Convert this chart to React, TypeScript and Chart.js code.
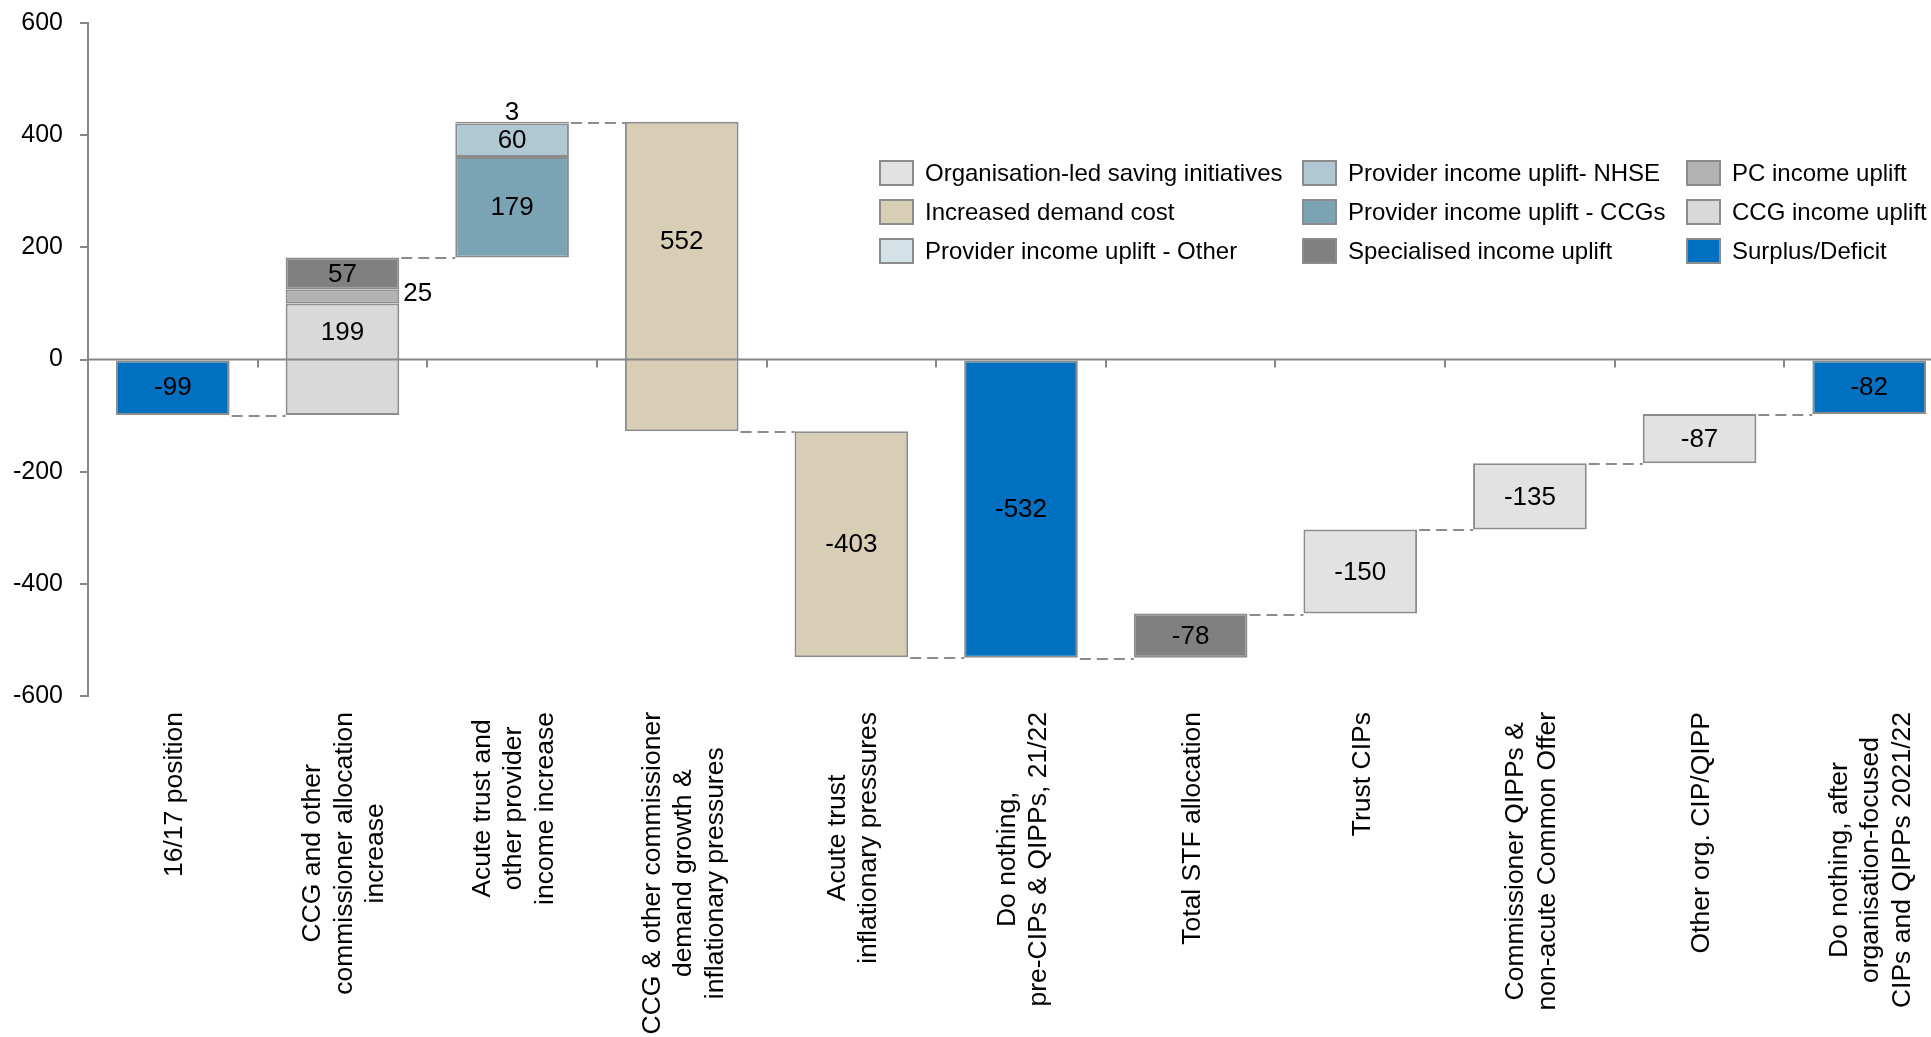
import React, { useEffect, useRef } from "react";
import { Chart, registerables } from "chart.js";

Chart.register(...registerables);

type Seg = [number, number] | null;

// ---------- DATA ----------
const categories: string[][] = [
  ["16/17 position"],
  ["CCG and other", "commissioner allocation", "increase"],
  ["Acute trust and", "other provider", "income increase"],
  ["CCG & other commissioner", "demand growth &", "inflationary pressures"],
  ["Acute trust", "inflationary pressures"],
  ["Do nothing,", "pre-CIPs & QIPPs, 21/22"],
  ["Total STF allocation"],
  ["Trust CIPs"],
  ["Commissioner QIPPs &", "non-acute Common Offer"],
  ["Other org. CIP/QIPP"],
  ["Do nothing, after", "organisation-focused", "CIPs and QIPPs 2021/22"],
];

const yTickMin = -600;
const yTickMax = 600;
const yTickStep = 200;

const seriesNames = [
  "Organisation-led saving initiatives",
  "Increased demand cost",
  "Provider income uplift - Other",
  "Provider income uplift- NHSE",
  "Provider income uplift - CCGs",
  "Specialised income uplift",
  "PC income uplift",
  "CCG income uplift",
  "Surplus/Deficit",
];

const seriesColors = [
  "#E2E2E2",
  "#D8CEB5",
  "#D4E1E7",
  "#AFC8D2",
  "#7AA3B4",
  "#808080",
  "#B2B2B2",
  "#D9D9D9",
  "#0070C0",
];

const orgLedSaving: Seg[] = [null, null, null, null, null, null, null, [-453, -303], [-303, -185], [-185, -97], null];
const orgLedSavingText = [null, null, null, null, null, null, null, "-150", "-135", "-87", null];

const increasedDemand: Seg[] = [null, null, null, [-128, 424], [-531, -128], null, null, null, null, null, null];
const increasedDemandText = [null, null, null, "552", "-403", null, null, null, null, null, null];

const providerOther: Seg[] = [null, null, [421, 424], null, null, null, null, null, null, null, null];
const providerOtherText = [null, null, "3", null, null, null, null, null, null, null, null];

const providerNHSE: Seg[] = [null, null, [361, 421], null, null, null, null, null, null, null, null];
const providerNHSEText = [null, null, "60", null, null, null, null, null, null, null, null];

const providerCCGs: Seg[] = [null, null, [182, 361], null, null, null, null, null, null, null, null];
const providerCCGsText = [null, null, "179", null, null, null, null, null, null, null, null];

const specialised: Seg[] = [null, [125, 182], null, null, null, null, [-532, -453], null, null, null, null];
const specialisedText = [null, "57", null, null, null, null, "-78", null, null, null, null];

const pcIncome: Seg[] = [null, [100, 125], null, null, null, null, null, null, null, null, null];
const pcIncomeText = [null, "25", null, null, null, null, null, null, null, null, null];

const ccgIncome: Seg[] = [null, [-99, 100], null, null, null, null, null, null, null, null, null];
const ccgIncomeText = [null, "199", null, null, null, null, null, null, null, null, null];

const surplusDeficit: Seg[] = [[-99, 0], null, null, null, null, [-532, 0], null, null, null, null, [-97, 0]];
const surplusDeficitText = ["-99", null, null, null, null, "-532", null, null, null, null, "-82"];

const seriesData: Seg[][] = [
  orgLedSaving, increasedDemand, providerOther, providerNHSE, providerCCGs,
  specialised, pcIncome, ccgIncome, surplusDeficit,
];
const seriesText: (string | null)[][] = [
  orgLedSavingText, increasedDemandText, providerOtherText, providerNHSEText, providerCCGsText,
  specialisedText, pcIncomeText, ccgIncomeText, surplusDeficitText,
];

// ---------- STYLE ----------
const FONT = '"Liberation Sans", Arial, Helvetica, sans-serif';
const AXIS = "#868686";
const EDGE = "#8C8C8C";
const CANVAS_W = 1954;
const CANVAS_H = 1037;

const extrasPlugin = {
  id: "waterfallExtras",
  afterDatasetsDraw(chart: any) {
    const ctx: CanvasRenderingContext2D = chart.ctx;
    const xs = chart.scales.x;
    const ys = chart.scales.y;
    const area = chart.chartArea;
    const y0 = ys.getPixelForValue(0);
    const n = categories.length;

    const barRect = (i: number) => {
      for (let d = 0; d < seriesData.length; d++) {
        if (seriesData[d][i]) {
          const el = chart.getDatasetMeta(d).data[i];
          return { x: el.x, w: el.width };
        }
      }
      return null;
    };
    const levels = (i: number) => {
      const arr: number[] = [];
      seriesData.forEach((s) => {
        const v = s[i];
        if (v) arr.push(v[0], v[1]);
      });
      return arr;
    };

    ctx.save();
    // connectors
    ctx.strokeStyle = EDGE;
    ctx.lineWidth = 2;
    ctx.setLineDash([11, 6]);
    for (let i = 0; i < n - 1; i++) {
      const a = levels(i);
      const b = levels(i + 1);
      let best = Infinity;
      let lvl = 0;
      a.forEach((va) =>
        b.forEach((vb) => {
          const dd = Math.abs(va - vb);
          if (dd < best) {
            best = dd;
            lvl = va;
          }
        })
      );
      const r1 = barRect(i);
      const r2 = barRect(i + 1);
      if (!r1 || !r2) continue;
      const py = Math.round(ys.getPixelForValue(lvl)) + 1;
      ctx.beginPath();
      ctx.moveTo(r1.x + r1.w / 2 + 2, py);
      ctx.lineTo(r2.x - r2.w / 2, py);
      ctx.stroke();
    }
    ctx.setLineDash([]);

    // zero line + category boundary tick marks
    ctx.strokeStyle = AXIS;
    ctx.lineWidth = 2;
    ctx.beginPath();
    ctx.moveTo(area.left, y0);
    ctx.lineTo(area.right, y0);
    for (let i = 1; i <= n; i++) {
      const bx = Math.round(xs.getPixelForValue(i - 0.5));
      ctx.moveTo(bx, y0);
      ctx.lineTo(bx, y0 + 8);
    }
    ctx.stroke();

    // data labels
    ctx.fillStyle = "#000";
    ctx.font = `26px ${FONT}`;
    for (let i = 0; i < n; i++) {
      const lv = levels(i);
      const topVal = Math.max(...(lv.length ? lv : [0]));
      for (let d = 0; d < seriesData.length; d++) {
        const v = seriesData[d][i];
        const t = seriesText[d][i];
        if (!v || !t) continue;
        const el = chart.getDatasetMeta(d).data[i];
        const lo = Math.min(v[0], v[1]);
        const hi = Math.max(v[0], v[1]);
        const pTop = ys.getPixelForValue(hi);
        const pBot = ys.getPixelForValue(lo);
        const h = pBot - pTop;
        if (h < 20) {
          if (hi === topVal) {
            ctx.textAlign = "center";
            ctx.textBaseline = "alphabetic";
            ctx.fillText(t, el.x, pTop - 2);
          } else {
            ctx.textAlign = "left";
            ctx.textBaseline = "middle";
            ctx.fillText(t, el.x + el.width / 2 + 4, (pTop + pBot) / 2 - 3);
          }
        } else {
          ctx.textAlign = "center";
          ctx.textBaseline = "middle";
          const cy = lo < 0 && hi > 0 ? (pTop + y0) / 2 : (pTop + pBot) / 2;
          ctx.fillText(t, el.x, cy + 1);
        }
      }
    }
    ctx.restore();
  },
  afterDraw(chart: any) {
    const ctx: CanvasRenderingContext2D = chart.ctx;
    const xs = chart.scales.x;
    ctx.save();
    // category labels (rotated, centred lines)
    const fs = 26.5;
    const lh = 31.5;
    ctx.font = `${fs}px ${FONT}`;
    ctx.fillStyle = "#000";
    ctx.textAlign = "center";
    ctx.textBaseline = "middle";
    categories.forEach((lines, i) => {
      const cx = xs.getPixelForValue(i);
      const maxLen = Math.max(...lines.map((l) => ctx.measureText(l).width));
      const cy = 712 + maxLen / 2;
      lines.forEach((line, k) => {
        const lx = cx + (k - (lines.length - 1) / 2) * lh;
        ctx.save();
        ctx.translate(lx, cy);
        ctx.rotate(-Math.PI / 2);
        ctx.fillText(line, 0, 2);
        ctx.restore();
      });
    });

    // legend (3 columns x 3 rows, column-major)
    const colX = [879, 1302, 1686];
    const rowY = [160, 199, 238];
    ctx.font = `24px ${FONT}`;
    ctx.textAlign = "left";
    ctx.textBaseline = "middle";
    chart.data.datasets.forEach((ds: any, idx: number) => {
      const c = Math.floor(idx / 3);
      const r = idx % 3;
      const bx = colX[c];
      const by = rowY[r];
      ctx.fillStyle = ds.backgroundColor;
      ctx.fillRect(bx, by, 35, 26);
      ctx.strokeStyle = EDGE;
      ctx.lineWidth = 2;
      ctx.strokeRect(bx + 1, by + 1, 33, 24);
      ctx.fillStyle = "#000";
      ctx.fillText(ds.label, bx + 46, by + 14);
    });
    ctx.restore();
  },
};

export default function App() {
  const ref = useRef<HTMLCanvasElement | null>(null);

  useEffect(() => {
    if (!ref.current) return;
    const chart = new Chart(ref.current, {
      type: "bar",
      data: {
        labels: categories.map((c) => c.join(" ")),
        datasets: seriesNames.map((name, i) => ({
          label: name,
          data: seriesData[i] as any,
          backgroundColor: seriesColors[i],
          borderColor: EDGE,
          borderWidth: 2,
          borderSkipped: false,
          categoryPercentage: 1,
          barPercentage: 0.67,
        })),
      },
      options: {
        responsive: false,
        animation: false,
        devicePixelRatio: 1,
        layout: { padding: { left: 13, top: 23, right: 0, bottom: 341 } },
        plugins: {
          legend: { display: false },
          tooltip: { enabled: false },
        },
        scales: {
          x: {
            display: false,
            stacked: true,
            offset: true,
          },
          y: {
            min: yTickMin,
            max: yTickMax,
            stacked: false,
            ticks: {
              stepSize: yTickStep,
              color: "#000",
              font: { family: FONT, size: 25 },
              padding: 17,
            },
            grid: {
              drawOnChartArea: false,
              drawTicks: true,
              tickLength: 8,
              tickColor: AXIS,
              lineWidth: 2,
            },
            border: { display: true, color: AXIS, width: 2 },
            afterFit(scale: any) {
              scale.width = 75;
              scale.paddingTop = 0;
              scale.paddingBottom = 0;
            },
          },
        },
      },
      plugins: [extrasPlugin],
    });
    return () => chart.destroy();
  }, []);

  return (
    <div
      style={{
        position: "fixed",
        left: 0,
        top: 0,
        width: 1931,
        height: 1037,
        overflow: "hidden",
        background: "#fff",
      }}
    >
      <canvas
        ref={ref}
        width={CANVAS_W}
        height={CANVAS_H}
        style={{ display: "block", width: CANVAS_W, height: CANVAS_H }}
      />
    </div>
  );
}
